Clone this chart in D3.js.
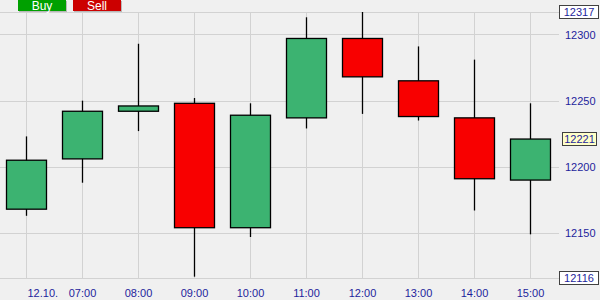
<!DOCTYPE html>
<html>
<head>
<meta charset="utf-8">
<script src="https://cdn.jsdelivr.net/npm/d3@7"></script>
<style>
  html, body { margin: 0; padding: 0; background: #f0f0f0; }
  svg { display: block; font-family: Arial, "Liberation Sans", sans-serif; }
</style>
</head>
<body>
<svg id="chart" width="600" height="300"></svg>
<script>
// Hourly candles, 12.10.
const times  = ["06:00", "07:00", "08:00", "09:00", "10:00", "11:00", "12:00", "13:00", "14:00", "15:00"];
const xLabels = ["12.10.", "07:00", "08:00", "09:00", "10:00", "11:00", "12:00", "13:00", "14:00", "15:00"];
const opens  = [12168, 12206, 12242, 12248, 12154, 12237, 12297, 12265, 12237, 12190];
const highs  = [12223, 12250, 12293, 12252, 12248, 12313, 12317, 12291, 12281, 12248];
const lows   = [12163, 12188, 12227, 12117, 12147, 12229, 12240, 12235, 12167, 12149];
const closes = [12205, 12242, 12246, 12154, 12239, 12297, 12268, 12238, 12191, 12221];
const yTicks = [12150, 12200, 12250, 12300];
const rangeMax = 12317, rangeMin = 12116, lastPrice = 12221;

const svg = d3.select("#chart");
const plot = { left: 0, right: 559, top: 12, bottom: 278 };

const x = d3.scalePoint().domain(times).range([-2, 558]).padding(0.5);
const y = d3.scaleLinear().domain([rangeMin, rangeMax]).range([plot.bottom, plot.top]);

const gridColor = "#d2d2d2";
const textColor = "#1e1e9c";

// horizontal grid (price levels plus range bounds)
svg.append("g").selectAll("line")
  .data(yTicks.concat([rangeMin, rangeMax]))
  .join("line")
  .attr("x1", plot.left).attr("x2", plot.right)
  .attr("y1", d => Math.round(y(d)) + 0.5).attr("y2", d => Math.round(y(d)) + 0.5)
  .attr("stroke", gridColor).attr("stroke-width", 1);

// vertical grid at each hour
svg.append("g").selectAll("line")
  .data(times)
  .join("line")
  .attr("x1", d => Math.round(x(d)) + 0.5).attr("x2", d => Math.round(x(d)) + 0.5)
  .attr("y1", plot.top).attr("y2", plot.bottom)
  .attr("stroke", gridColor).attr("stroke-width", 1);

// price axis labels
const yAxis = d3.axisRight(y).tickValues(yTicks).tickSize(0).tickPadding(0).tickFormat(d3.format("d"));
const ya = svg.append("g").attr("transform", `translate(565,0)`).call(yAxis);
ya.select(".domain").remove();
ya.selectAll("text").attr("fill", textColor).attr("font-size", 11)
  .attr("font-family", "Arial, 'Liberation Sans', sans-serif");

// time axis labels
const xAxis = d3.axisBottom(x).tickSize(0).tickPadding(0).tickFormat((d, i) => xLabels[i]);
const xa = svg.append("g").attr("transform", `translate(0,289)`).call(xAxis);
xa.select(".domain").remove();
xa.selectAll("text").attr("fill", textColor).attr("font-size", 11)
  .attr("font-family", "Arial, 'Liberation Sans', sans-serif");
xa.selectAll(".tick").filter((d, i) => i === 0).select("text")
  .attr("text-anchor", "start").attr("x", 1);

// candles
const candles = times.map((t, i) => ({ t, o: opens[i], h: highs[i], l: lows[i], c: closes[i] }));
const bodyW = 40;
const cg = svg.append("g").selectAll("g").data(candles).join("g");
cg.append("line")
  .attr("x1", d => Math.round(x(d.t)) + 0.5).attr("x2", d => Math.round(x(d.t)) + 0.5)
  .attr("y1", d => y(d.h)).attr("y2", d => y(d.l))
  .attr("stroke", "#000").attr("stroke-width", 1.3);
cg.append("rect")
  .attr("x", d => Math.round(x(d.t)) - bodyW / 2 + 0.5)
  .attr("width", bodyW)
  .attr("y", d => y(Math.max(d.o, d.c)))
  .attr("height", d => Math.max(1, Math.abs(y(d.o) - y(d.c))))
  .attr("fill", d => d.c >= d.o ? "#3cb371" : "#f80000")
  .attr("stroke", "#000").attr("stroke-width", 1.3);

// boxed price labels on the right
function priceBox(v, x0, w, fill) {
  const cy = y(v);
  svg.append("rect").attr("x", x0 + 0.5).attr("y", Math.round(cy) - 6.5)
    .attr("width", w).attr("height", 13)
    .attr("fill", fill).attr("stroke", "#404040").attr("stroke-width", 1);
  svg.append("text").attr("x", x0 + w / 2 + 0.5).attr("y", cy).attr("dy", "0.35em")
    .attr("text-anchor", "middle").attr("font-size", 11).attr("fill", textColor)
    .text(d3.format("d")(v));
}
priceBox(rangeMax, 559, 39, "#ffffff");
priceBox(rangeMin, 559, 39, "#ffffff");
priceBox(lastPrice, 562, 34, "#ffffc8");

// Buy / Sell buttons
const buttons = [
  { label: "Buy", x0: 18, fill: "#00a000" },
  { label: "Sell", x0: 73, fill: "#cc0000" }
];
const bg = svg.append("g").selectAll("g").data(buttons).join("g");
bg.append("rect").attr("x", d => d.x0 + 1).attr("y", 1).attr("width", 48).attr("height", 11).attr("fill", "#b8b8b8");
bg.append("rect").attr("x", d => d.x0).attr("y", 0).attr("width", 48).attr("height", 11).attr("fill", d => d.fill);
bg.append("text").attr("x", d => d.x0 + 24).attr("y", 5.5).attr("dy", "0.35em")
  .attr("text-anchor", "middle").attr("font-size", 12).attr("fill", "#ffffff").text(d => d.label);
</script>
</body>
</html>
